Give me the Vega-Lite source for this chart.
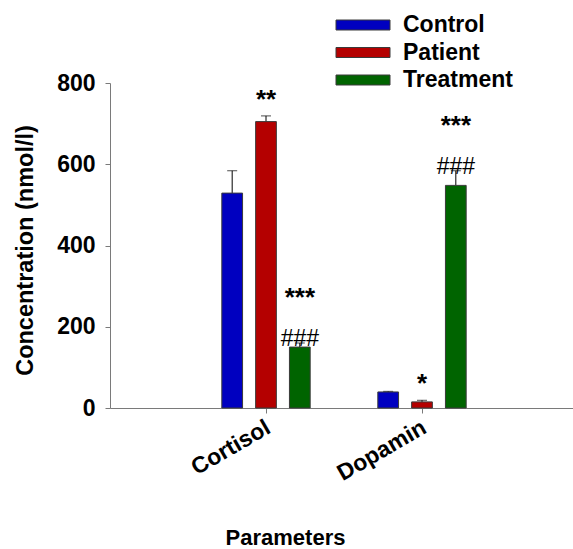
{
  "$schema": "https://vega.github.io/schema/vega-lite/v6.json",
  "width": 468,
  "height": 325,
  "autosize": {"type": "none"},
  "padding": {"left": 110, "top": 83, "right": 0, "bottom": 141},
  "background": "white",
  "config": {
    "view": {"stroke": null},
    "font": "Liberation Sans",
    "axis": {"grid": false, "domainColor": "#7a7a7a", "tickColor": "#7a7a7a", "labelColor": "black", "titleColor": "black", "labelFont": "Liberation Sans", "titleFont": "Liberation Sans", "labelFontWeight": "bold", "titleFontWeight": "bold", "labelFontSize": 23, "titleFontSize": 22}
  },
  "data": {
    "values": [
      {"param": "Cortisol", "group": "Control", "mean": 529, "upper": 584, "stars": "", "hash": ""},
      {"param": "Cortisol", "group": "Patient", "mean": 705, "upper": 719, "stars": "**", "hash": ""},
      {"param": "Cortisol", "group": "Treatment", "mean": 150, "upper": 160, "stars": "***", "hash": "###"},
      {"param": "Dopamin", "group": "Control", "mean": 39.5, "upper": 41, "stars": "", "hash": ""},
      {"param": "Dopamin", "group": "Patient", "mean": 15, "upper": 19, "stars": "*", "hash": ""},
      {"param": "Dopamin", "group": "Treatment", "mean": 548, "upper": 584, "stars": "***", "hash": "###"}
    ]
  },
  "encoding": {
    "x": {
      "field": "param", "type": "nominal", "sort": ["Cortisol", "Dopamin"],
      "scale": {"paddingInner": 0, "paddingOuter": 0.5},
      "axis": {"title": "Parameters", "labelAngle": -30, "labelAlign": "right", "labelBaseline": "top", "labelPadding": 3, "labelOffset": -3, "tickSize": 5, "titleX": 175, "titleY": 136, "titleBaseline": "alphabetic", "titleAnchor": "middle"}
    },
    "xOffset": {
      "field": "group", "type": "nominal", "sort": ["Control", "Patient", "Treatment"],
      "scale": {"paddingInner": 0.387, "paddingOuter": 1.21}
    }
  },
  "layer": [
    {
      "mark": {"type": "rule", "color": "black", "strokeWidth": 1},
      "encoding": {
        "y": {"field": "mean", "type": "quantitative"},
        "y2": {"field": "upper"}
      }
    },
    {
      "mark": {"type": "tick", "color": "black", "thickness": 1, "size": 10},
      "encoding": {
        "y": {"field": "upper", "type": "quantitative"}
      }
    },
    {
      "mark": {"type": "bar", "stroke": "#3a3a3a", "strokeWidth": 1},
      "encoding": {
        "y": {
          "field": "mean", "type": "quantitative",
          "scale": {"domain": [0, 800], "nice": false},
          "axis": {"title": "Concentration (nmol/l)", "titleFontSize": 23.5, "values": [0, 200, 400, 600, 800], "tickSize": 5, "labelPadding": 10, "titleX": -85, "titleY": 167, "titleBaseline": "middle", "titleAnchor": "middle"}
        },
        "color": {
          "field": "group", "type": "nominal",
          "scale": {"domain": ["Control", "Patient", "Treatment"], "range": ["#0000c0", "#b40000", "#006400"]},
          "legend": {
            "title": null, "orient": "none", "legendX": 241.5, "legendY": -69.5,
            "symbolType": "M-5.4,-1H5.4V1H-5.4Z", "symbolSize": 100, "symbolStrokeColor": "#3a3a3a", "symbolStrokeWidth": 1, "symbolOpacity": 1,
            "labelFont": "Liberation Sans", "labelFontSize": 23, "labelFontWeight": "bold", "labelColor": "black", "labelOffset": 28.5, "rowPadding": 3.5
          }
        }
      }
    },
    {
      "transform": [{"filter": "datum.hash == ''"}],
      "mark": {"type": "text", "fontSize": 26, "fontWeight": "bold", "baseline": "alphabetic", "dy": -8, "color": "black"},
      "encoding": {
        "y": {"field": "upper", "type": "quantitative"},
        "text": {"field": "stars"}
      }
    },
    {
      "transform": [{"filter": "datum.hash != ''"}],
      "mark": {"type": "text", "fontSize": 26, "fontWeight": "bold", "baseline": "alphabetic", "dy": -37, "color": "black"},
      "encoding": {
        "y": {"field": "upper", "type": "quantitative"},
        "text": {"field": "stars"}
      }
    },
    {
      "transform": [{"filter": "datum.hash != ''"}],
      "mark": {"type": "text", "fontSize": 23, "baseline": "alphabetic", "dy": 3, "color": "black"},
      "encoding": {
        "y": {"field": "upper", "type": "quantitative"},
        "text": {"field": "hash"}
      }
    }
  ]
}
